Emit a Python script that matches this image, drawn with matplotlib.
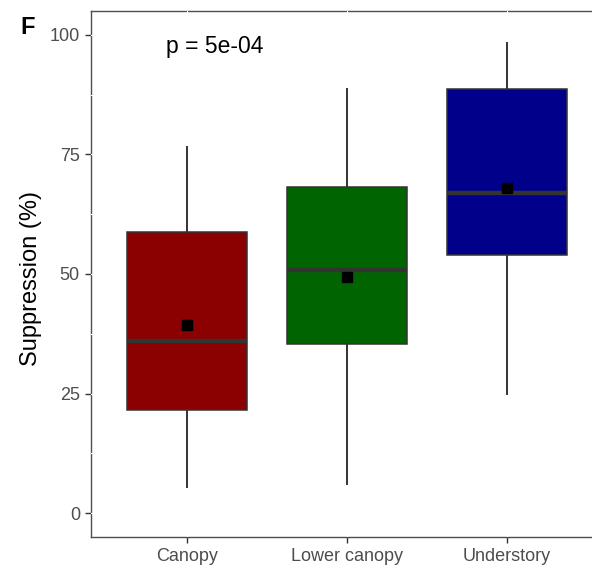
import matplotlib.pyplot as plt

# ======= DATOS ==========
groups = ["Canopy", "Lower canopy", "Understory"]
colors = ["#8B0000", "#006400", "#00008B"]
whislo = [5.4, 6.1, 24.9]
q1 = [21.5, 35.4, 54.0]
med = [36.0, 50.8, 66.9]
q3 = [58.8, 68.2, 88.7]
whishi = [76.6, 88.7, 98.3]
means = [39.3, 49.4, 68.0]
yticks = [0, 25, 50, 75, 100]
p_label = "p = 5e-04"
panel_tag = "F"
ylabel = "Suppression (%)"
# ========================

plt.rcParams["font.family"] = ["Liberation Sans", "DejaVu Sans"]

fig = plt.figure(figsize=(5.92, 5.68), dpi=100)
W, H = 592, 568
ax = fig.add_axes([91 / W, 31 / H, (603 - 91) / W, (537 - 11) / H])

stats = []
for i, g in enumerate(groups):
    stats.append(dict(label=g, whislo=whislo[i], q1=q1[i], med=med[i],
                      q3=q3[i], whishi=whishi[i], fliers=[]))

pos = list(range(1, len(groups) + 1))
bp = ax.bxp(stats, positions=pos, widths=0.75, patch_artist=True,
            showcaps=False, showfliers=False, zorder=3,
            boxprops=dict(edgecolor="#333333", linewidth=1.1),
            medianprops=dict(color="#333333", linewidth=3.2),
            whiskerprops=dict(color="#333333", linewidth=1.4))
for patch, c in zip(bp["boxes"], colors):
    patch.set_facecolor(c)

ax.plot(pos, means, linestyle="none", marker="s", markersize=7,
        color="black", zorder=5)

ax.set_xlim(0.4, 3.6)
ax.set_ylim(-5, 105)
ax.set_yticks(yticks)
ax.set_xticks(pos)
ax.set_xticklabels(groups)

# lineas blancas de la cuadricula (solo se ven sobre el borde)
for y in yticks + [12.5, 37.5, 62.5, 87.5]:
    ax.axhline(y, color="white", linewidth=0.8, zorder=2.6)
for x in pos:
    ax.axvline(x, color="white", linewidth=0.8, zorder=2.6)

for s in ax.spines.values():
    s.set_color("#4d4d4d")
    s.set_linewidth(1.0)
ax.tick_params(axis="both", colors="#333333", length=4, width=1.0,
               labelsize=13, labelcolor="#4d4d4d", pad=4)

fig.text(31 / W, 1 - 278 / H, ylabel, fontsize=17, rotation=90,
         ha="center", va="center")
ax.text(0.87, 97.5, p_label, fontsize=16.5, ha="left", va="center")
fig.text(20 / W, 1 - 28 / H, panel_tag, fontsize=17, fontweight="bold",
         ha="left", va="center")

plt.savefig("out.png", dpi=100)
plt.close()
